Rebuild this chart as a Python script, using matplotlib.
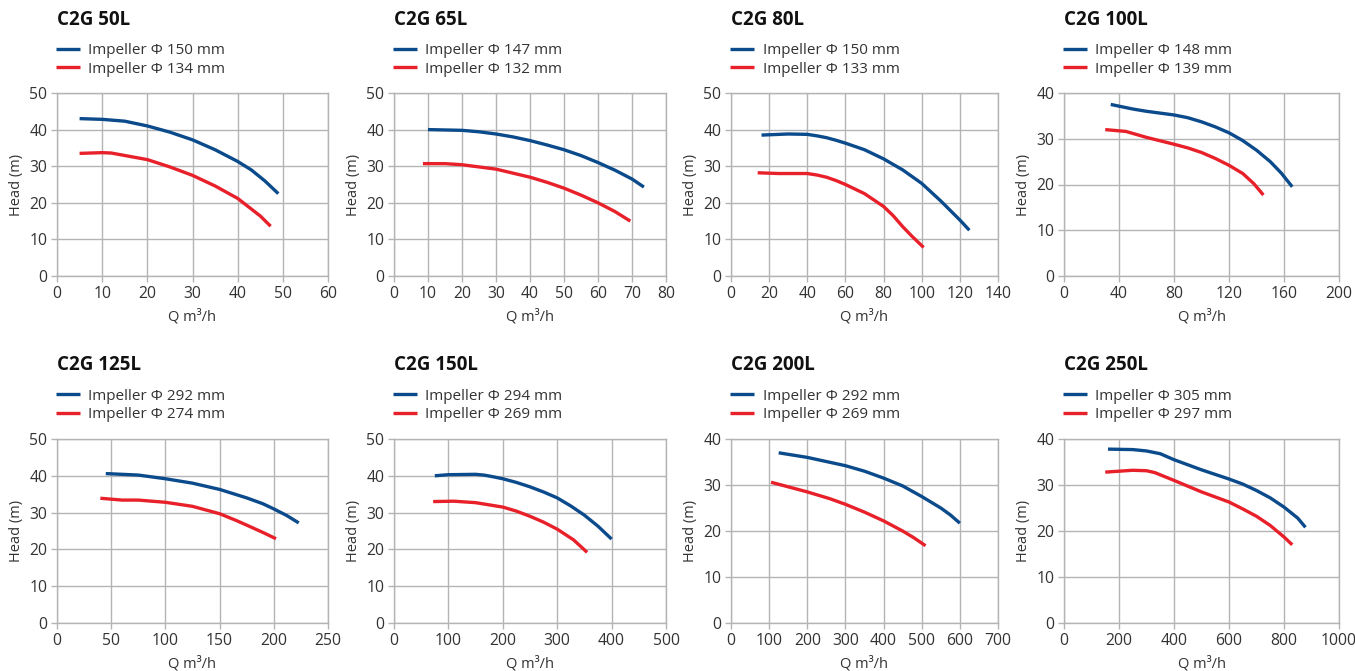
import numpy as np
import matplotlib
matplotlib.use("Agg")
import matplotlib.pyplot as plt

plt.rcParams['font.family'] = ['Open Sans', 'DejaVu Sans']

# pump models and impeller sizes
models = ['C2G 50L', 'C2G 65L', 'C2G 80L', 'C2G 100L',
          'C2G 125L', 'C2G 150L', 'C2G 200L', 'C2G 250L']
imp_big = [150, 147, 150, 148, 292, 294, 292, 305]
imp_small = [134, 132, 133, 139, 274, 269, 269, 297]

# axis limits / ticks
xmax = [60, 80, 140, 200, 250, 500, 700, 1000]
xstep = [10, 10, 20, 40, 50, 100, 100, 200]
ymax = [50, 50, 50, 40, 50, 50, 40, 40]

# curves: (Q, Head)
big_q = [
    [5, 10, 15, 20, 25, 30, 35, 40, 43, 46, 49],
    [10, 20, 25, 30, 35, 40, 45, 50, 55, 60, 65, 70, 73.5],
    [16, 30, 40, 45, 50, 55, 60, 70, 80, 90, 100, 110, 120, 125],
    [34, 50, 60, 80, 90, 100, 110, 120, 130, 140, 150, 158, 166],
    [45, 75, 100, 125, 150, 175, 190, 200, 212, 223],
    [75, 100, 150, 165, 180, 200, 225, 250, 275, 300, 325, 350, 375, 400],
    [125, 200, 300, 350, 400, 450, 500, 550, 575, 600],
    [160, 250, 300, 350, 400, 500, 600, 650, 700, 750, 800, 850, 878],
]
big_h = [
    [43, 42.8, 42.3, 41, 39.3, 37.2, 34.5, 31.3, 29, 26, 22.5],
    [40, 39.8, 39.4, 38.8, 38, 37, 35.8, 34.5, 32.9, 31, 28.9, 26.5, 24.3],
    [38.5, 38.8, 38.7, 38.3, 37.8, 37.1, 36.3, 34.5, 32, 29, 25.3, 20.5, 15.3, 12.5],
    [37.5, 36.5, 36, 35.2, 34.6, 33.7, 32.6, 31.3, 29.6, 27.5, 25, 22.5, 19.5],
    [40.6, 40.2, 39.2, 38, 36.3, 34, 32.4, 31, 29.2, 27.2],
    [40, 40.3, 40.4, 40.2, 39.8, 39.2, 38.2, 37, 35.6, 34, 31.8, 29.3, 26.3, 22.8],
    [37, 36, 34.2, 33, 31.5, 29.8, 27.5, 25, 23.5, 21.7],
    [37.8, 37.7, 37.4, 36.8, 35.5, 33.3, 31.3, 30.2, 28.8, 27.2, 25.2, 22.8, 20.8],
]
small_q = [
    [5, 10, 12, 20, 25, 30, 35, 40, 45, 47.3],
    [8.5, 15, 20, 30, 40, 45, 50, 55, 60, 65, 69.5],
    [14, 25, 40, 45, 50, 55, 60, 70, 80, 85, 90, 95, 101],
    [30, 45, 60, 80, 90, 100, 110, 120, 130, 138, 145],
    [40, 60, 75, 100, 125, 150, 165, 175, 190, 202],
    [72, 110, 150, 200, 225, 250, 275, 300, 330, 355],
    [105, 200, 260, 300, 350, 400, 450, 480, 510],
    [150, 200, 250, 300, 330, 400, 500, 600, 650, 700, 750, 800, 830],
]
small_h = [
    [33.5, 33.7, 33.6, 31.8, 29.8, 27.5, 24.6, 21.2, 16.4, 13.6],
    [30.7, 30.7, 30.4, 29.2, 27, 25.6, 24, 22.1, 20, 17.6, 15],
    [28.2, 28, 28, 27.6, 27, 26.1, 25, 22.5, 19, 16.5, 13.5, 10.8, 7.8],
    [32, 31.6, 30.3, 28.8, 28, 27, 25.7, 24.2, 22.4, 20.2, 17.7],
    [33.9, 33.4, 33.4, 32.8, 31.7, 29.7, 27.9, 26.6, 24.6, 22.9],
    [33, 33.1, 32.7, 31.5, 30.4, 29, 27.4, 25.5, 22.6, 19.2],
    [30.6, 28.5, 27, 25.8, 24.1, 22.2, 20, 18.5, 16.8],
    [32.8, 33, 33.2, 33.1, 32.7, 31, 28.5, 26.3, 24.8, 23.2, 21.2, 18.7, 17],
]

BLUE = '#0b4a8b'
RED = '#e8202a'
GRID = '#b4b4b4'
TXT = '#333333'

W, H = 1355, 671
fig = plt.figure(figsize=(W / 100, H / 100), dpi=100)

lefts = [57, 394, 731, 1064]
rights = [328, 666, 998, 1339]
rows = [(93, 276), (439, 623)]

for i in range(8):
    r, c = divmod(i, 4)
    top, bot = rows[r]
    ax = fig.add_axes([lefts[c] / W, 1 - bot / H,
                       (rights[c] - lefts[c]) / W, (bot - top) / H])
    ax.plot(big_q[i], big_h[i], color=BLUE, lw=2.4,
            label='Impeller Φ %d mm' % imp_big[i], solid_capstyle='butt')
    ax.plot(small_q[i], small_h[i], color=RED, lw=2.4,
            label='Impeller Φ %d mm' % imp_small[i], solid_capstyle='butt')
    ax.set_xlim(0, xmax[i])
    ax.set_ylim(0, ymax[i])
    ax.set_xticks(np.arange(0, xmax[i] + 1, xstep[i]))
    ax.set_yticks(np.arange(0, ymax[i] + 1, 10))
    ax.grid(True, color=GRID, lw=1)
    for s in ax.spines.values():
        s.set_color(GRID)
        s.set_linewidth(1)
    ax.tick_params(colors=GRID, labelcolor=TXT, labelsize=11.3, length=4, width=1, pad=3)
    ax.set_xlabel('Q m³/h', fontsize=10.5, color=TXT, labelpad=5)
    ax.set_ylabel('Head (m)', fontsize=10.5, color=TXT, labelpad=4)
    ax.text(0, 1.40, models[i], transform=ax.transAxes, fontsize=13.5,
            fontweight='bold', color='#111111', va='center', ha='left')
    leg = ax.legend(loc='upper left', bbox_to_anchor=(-0.005, 1.274), frameon=False,
                    fontsize=11, handlelength=1.6, handletextpad=0.55,
                    labelspacing=0.25, borderaxespad=0, borderpad=0)
    for t in leg.get_texts():
        t.set_color(TXT)

fig.savefig('out.png', dpi=100)
